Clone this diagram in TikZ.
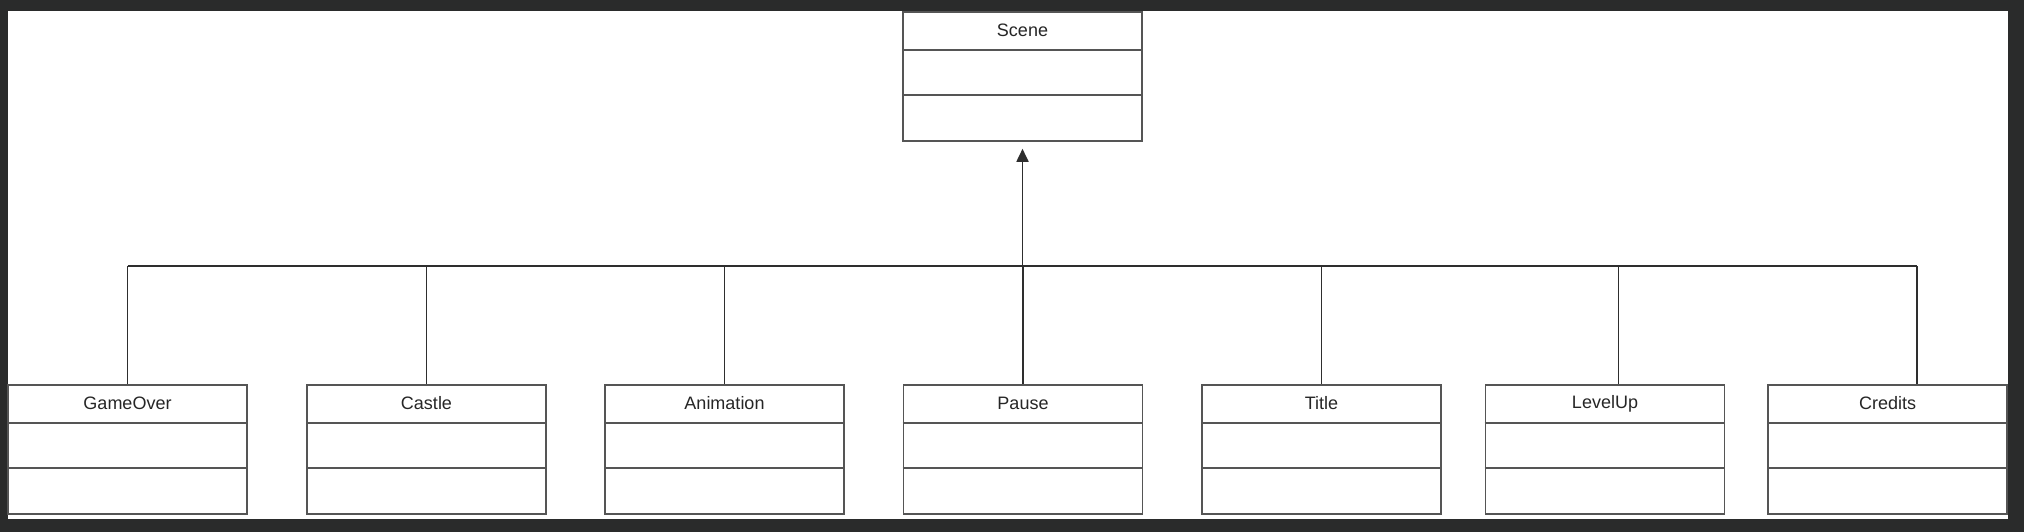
\documentclass[tikz,border=0pt]{standalone}
\usepackage{fontspec}
\setmainfont{Liberation Sans}
\usetikzlibrary{arrows.meta,calc}
\definecolor{bgdark}{HTML}{2A2B2B}
\definecolor{boxline}{HTML}{555555}
\definecolor{connline}{HTML}{2E2E2E}
\definecolor{txt}{HTML}{262626}
\tikzset{
  classbox/.style={draw=boxline, line width=1.8pt, fill=white, minimum width=239pt, minimum height=129pt, inner sep=0pt, anchor=north},
  classname/.style={text=txt, font=\fontsize{18}{20}\selectfont, inner sep=0pt, anchor=center},
  sepline/.style={draw=boxline, line width=1.8pt},
  conn/.style={draw=connline, line width=1.8pt},
}
\newcommand{\umlclass}[4]{%
  \node[classbox] (#1) at (#2,#3) {};
  \node[classname] (#1-name) at ([yshift=-19.5pt]#1.north) {#4};
  \draw[sepline] ([yshift=-39pt]#1.north west) -- ([yshift=-39pt]#1.north east);
  \draw[sepline] ([yshift=-84pt]#1.north west) -- ([yshift=-84pt]#1.north east);
}
\begin{document}
\begin{tikzpicture}[x=1pt,y=-1pt]
\useasboundingbox (0,0) rectangle (2024,532);
\fill[bgdark] (0,0) rectangle (2024,532);
\fill[white] (8,11) rectangle (2008,519);

\umlclass{scene}{1022.5}{11}{Scene}
\umlclass{gameover}{127.5}{384}{GameOver}
\umlclass{castle}{426.5}{384}{Castle}
\umlclass{animation}{724.5}{384}{Animation}
\umlclass{pause}{1023}{384}{Pause}
\umlclass{title}{1321.5}{384}{Title}
\umlclass{levelup}{1605}{384}{LevelUp}
\umlclass{credits}{1887.5}{384}{Credits}

\coordinate (bus) at (1022.5,266);
\coordinate (cLU) at ([xshift=13.5pt]levelup.north);
\coordinate (cCR) at ([xshift=29.5pt]credits.north);

\draw[conn] (gameover.north |- bus) -- (cCR |- bus);
\draw[conn] (gameover.north) -- (gameover.north |- bus);
\draw[conn] (castle.north) -- (castle.north |- bus);
\draw[conn] (animation.north) -- (animation.north |- bus);
\draw[conn] (pause.north) -- (pause.north |- bus);
\draw[conn] (title.north) -- (title.north |- bus);
\draw[conn] (cLU) -- (cLU |- bus);
\draw[conn] (cCR) -- (cCR |- bus);
\draw[conn, -{Triangle[length=13pt,width=12pt]}] (bus) -- ([yshift=-7pt]scene.south);
\end{tikzpicture}
\end{document}
